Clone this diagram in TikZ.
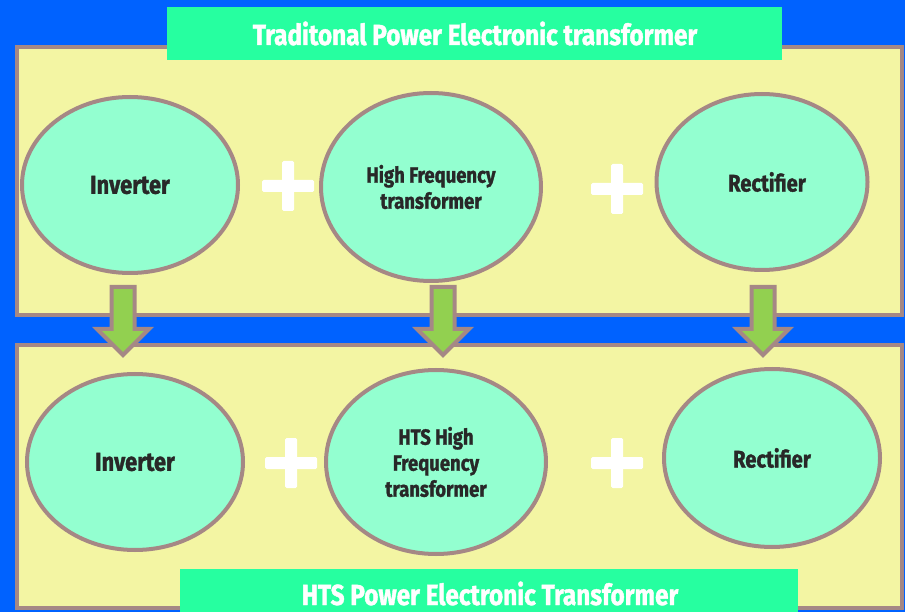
\documentclass[tikz,border=0pt]{standalone}
\usepackage{fontspec}
\setmainfont{Fira Sans}[FakeStretch=0.84, BoldFeatures={FakeBold=1.3}]
\usetikzlibrary{shapes.geometric}
\definecolor{bgblue}{RGB}{0,98,255}
\definecolor{panelfill}{RGB}{243,245,163}
\definecolor{edge}{RGB}{165,136,133}
\definecolor{titlegreen}{RGB}{38,255,160}
\definecolor{ellfill}{RGB}{147,255,208}
\definecolor{arrowgreen}{RGB}{146,208,80}
\definecolor{txt}{RGB}{40,40,40}
\tikzset{
  panel/.style={draw=edge, line width=4pt, fill=panelfill},
  titlebox/.style={fill=titlegreen},
  titletext/.style={text=white, font=\bfseries\fontsize{29}{32}\selectfont, inner sep=0pt},
  blob/.style={ellipse, draw=edge, line width=4pt, fill=ellfill, text=txt, align=center, inner sep=0pt},
  bigtext/.style={font=\bfseries\fontsize{26}{28}\selectfont},
  midtext/.style={font=\bfseries\fontsize{24}{26}\selectfont},
  smalltext/.style={font=\bfseries\fontsize{22}{26}\selectfont},
  plusbar/.style={fill=white, rounded corners=1.5pt},
  blockarrow/.style={draw=edge, line width=4pt, fill=arrowgreen, line join=miter},
}
\begin{document}
\begin{tikzpicture}[x=1pt,y=-1pt]
\useasboundingbox (0,0) rectangle (905,612);
\fill[bgblue] (0,0) rectangle (905,612);
% panels
\draw[panel] (17,47) rectangle (902,315);
\draw[panel] (17,345) rectangle (902,608);
% titles
\fill[titlebox] (167,7) rectangle (782,60);
\node[titletext, anchor=base] (t1) at (475,45) {Traditonal Power Electronic transformer};
% ellipses top
\node[blob, bigtext, minimum width=216pt, minimum height=176pt] (inv1) at (130,185) {Inverter};
\node[blob, smalltext, minimum width=220pt, minimum height=188pt] (hf1) at (431,187) {High Frequency\\transformer};
\node[blob, midtext, minimum width=211pt, minimum height=176pt] (rec1) at (762,182) {\hspace*{10pt}Rectifier};
% ellipses bottom
\node[blob, bigtext, minimum width=216pt, minimum height=176pt] (inv2) at (135,462) {Inverter};
\node[blob, smalltext, minimum width=220pt, minimum height=184pt] (hf2) at (436,462) {HTS High\\Frequency\\transformer};
\node[blob, midtext, minimum width=216pt, minimum height=178pt] (rec2) at (772,458) {Rectifier};
% plus signs
\foreach \n/\cx/\cy in {p1/288/186, p2/617/189, p3/291/463, p4/617/463}{
  \coordinate (\n) at (\cx,\cy);
  \fill[plusbar] ([xshift=-26pt,yshift=-6pt]\n) rectangle ([xshift=26pt,yshift=6pt]\n);
  \fill[plusbar] ([xshift=-6pt,yshift=-25pt]\n) rectangle ([xshift=6pt,yshift=25pt]\n);
}
% block arrows
\foreach \n/\cx in {a1/123, a2/443, a3/763}{
  \coordinate (\n) at (\cx,287);
  \draw[blockarrow] ([xshift=-11.5pt]\n) -- ([xshift=11.5pt]\n) -- ([xshift=11.5pt,yshift=-42pt]\n)
    -- ([xshift=26pt,yshift=-42pt]\n) -- ([yshift=-68pt]\n) -- ([xshift=-26pt,yshift=-42pt]\n)
    -- ([xshift=-11.5pt,yshift=-42pt]\n) -- cycle;
}
% bottom title
\fill[titlebox] (180,569) rectangle (798,612);
\node[titletext, anchor=base] (t2) at (490,605) {HTS Power Electronic Transformer};
\end{tikzpicture}
\end{document}
